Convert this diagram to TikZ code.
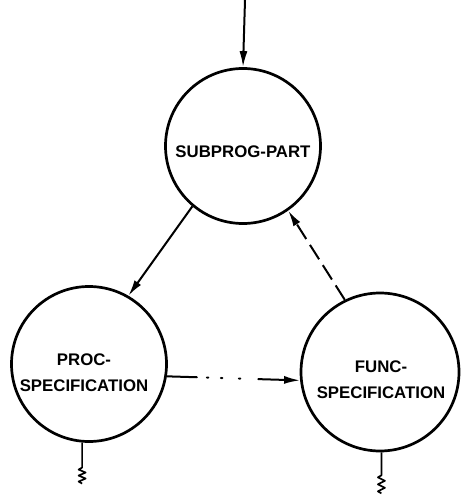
\documentclass[tikz,border=0pt]{standalone}
\usepackage{fontspec}
\setmainfont{Liberation Sans}
\usetikzlibrary{arrows.meta,calc}
\begin{document}
\begin{tikzpicture}[x=1pt,y=-1pt,
  state/.style={circle,draw,line width=2.7pt,minimum size=155pt,inner sep=0pt},
  lbl/.style={font=\fontsize{16.8}{26}\selectfont\bfseries,align=center,inner sep=0pt},
  flow/.style={line width=2pt,-{Latex[length=16pt,width=8pt]}},
  stub/.style={line width=1.7pt,line join=round}]
\useasboundingbox (0,0) rectangle (460,497);

% states
\node[state] (sub)  at (243,146) {};
\node[state] (proc) at (89,364)  {};
\node[state,minimum size=158pt] (func) at (380,372) {};

% state names, set a little below each centre
\node[lbl] (subtxt)  at ([yshift=-6pt]sub.center)  {SUBPROG-PART};
\node[lbl] (proctxt) at ([xshift=-5pt,yshift=-9pt]proc.center) {PROC-\\SPECIFICATION};
\node[lbl] (functxt) at ([xshift=1pt,yshift=-8pt]func.center) {FUNC-\\SPECIFICATION};

% entry
\coordinate (entry) at (245,0);
\draw[flow] (entry) -- (sub.north);

% transitions
\draw[flow] (sub.230) -- (proc.60);
\draw[flow,dash pattern=on 17pt off 7pt] (func.116) -- (sub.305);
\draw[flow,line cap=round,dash pattern=on 30pt off 10pt on 1.5pt off 12.5pt on 1.5pt off 16.5pt on 1.5pt off 18pt on 60pt]
  (proc.-9) -- (func.186);

% exits
\draw[stub] (proc.265) -- ++(0,25) -- ++(-3.5,2) -- ++(7,3) -- ++(-7,3) -- ++(7,3) -- ++(-7,3) -- ++(3.5,2);
\draw[stub] (func.271) -- ++(0,23) -- ++(-3.5,2) -- ++(7,3.5) -- ++(-7,3.5) -- ++(7,3.5) -- ++(-7,3.5) -- ++(3.5,2);
\end{tikzpicture}
\end{document}
